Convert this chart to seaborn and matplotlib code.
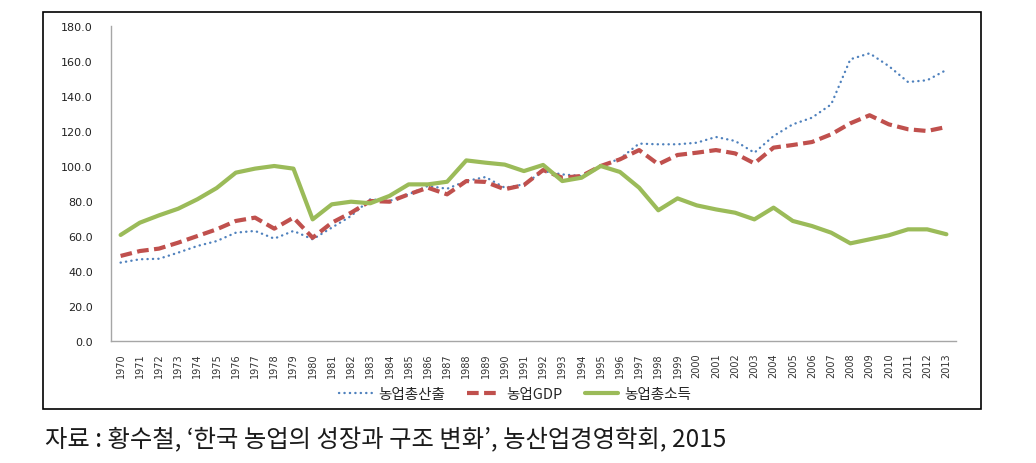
import numpy as np
import pandas as pd
import seaborn as sns
import matplotlib.pyplot as plt
from matplotlib.patches import Rectangle

years = list(range(1970, 2014))

# 농업총산출 (파란 점선)
total_output = [44.8, 46.7, 47.0, 50.5, 54.3, 57.1, 61.9, 62.9, 58.5, 62.9,
                58.1, 64.8, 71.4, 81.0, 80.0, 83.8, 88.6, 87.0, 91.4, 93.7,
                87.6, 89.5, 97.1, 95.2, 94.3, 100.0, 104.2, 112.8, 112.4, 112.4,
                113.3, 116.6, 114.3, 107.6, 117.1, 123.8, 127.6, 135.2, 161.0, 164.4,
                157.1, 148.0, 149.0, 154.9]
# 농업GDP (빨간 파선)
agri_gdp = [48.6, 51.4, 52.8, 56.2, 60.0, 63.8, 68.6, 70.5, 64.2, 70.5,
            59.0, 67.6, 73.3, 80.0, 79.6, 83.8, 87.6, 83.8, 91.4, 90.9,
            86.7, 89.1, 97.7, 93.3, 94.3, 100.0, 103.8, 109.1, 101.0, 106.3,
            107.6, 109.1, 107.2, 101.5, 110.5, 112.0, 113.7, 118.1, 124.4, 129.0,
            123.8, 121.0, 120.0, 122.3]
# 농업총소득 (초록 실선)
total_income = [60.6, 67.6, 71.8, 75.6, 81.0, 87.4, 96.2, 98.5, 100.0, 98.5,
                69.5, 78.1, 79.6, 78.7, 82.9, 89.5, 89.5, 91.0, 103.2, 101.9,
                100.8, 97.1, 100.6, 91.4, 93.3, 100.0, 96.6, 87.6, 74.7, 81.5,
                77.5, 75.2, 73.3, 69.5, 76.2, 68.6, 65.7, 61.9, 55.8, 58.1,
                60.4, 63.8, 63.8, 61.0]

yticks = np.arange(0, 181, 20)

sns.set_style("white")
plt.rcParams['font.family'] = ['DejaVu Sans', 'Noto Sans CJK KR']

df = pd.DataFrame({'x': np.arange(len(years)),
                   '농업총산출': total_output,
                   '농업GDP': agri_gdp,
                   '농업총소득': total_income})

fig = plt.figure(figsize=(10.36, 4.64), dpi=100)
ax = fig.add_axes([111/1036, 1-342/464, (956-111)/1036, (342-27)/464])

sns.lineplot(data=df, x='x', y='농업총산출', ax=ax, color='#4F81BD',
             linewidth=1.7, label='농업총산출')
ax.lines[-1].set_linestyle((0, (0.1, 2.2)))
ax.lines[-1].set_dash_capstyle('round')

sns.lineplot(data=df, x='x', y='농업GDP', ax=ax, color='#C0504D',
             linewidth=3.0, label='농업GDP')
ax.lines[-1].set_linestyle((0, (2.8, 1.3)))

sns.lineplot(data=df, x='x', y='농업총소득', ax=ax, color='#9BBB59',
             linewidth=3.0, label='농업총소득')

ax.set_xlim(-0.5, len(years) - 0.5)
ax.set_ylim(0, 180)
ax.set_xticks(df['x'])
ax.set_xticklabels([str(y) for y in years], rotation=90, fontsize=7, color='#333333')
ax.set_yticks(yticks)
ax.set_yticklabels([f'{v:.1f}' for v in yticks], fontsize=8, color='#222222')
ax.tick_params(axis='both', length=0)
ax.tick_params(axis='x', pad=8)
ax.tick_params(axis='y', pad=13)
ax.set_xlabel('')
ax.set_ylabel('')

for s in ['top', 'right']:
    ax.spines[s].set_visible(False)
for s in ['left', 'bottom']:
    ax.spines[s].set_color('#A6A6A6')
    ax.spines[s].set_linewidth(1.0)

handles, labels = ax.get_legend_handles_labels()
ax.get_legend().remove()
fig.legend(handles, labels, loc='center', bbox_to_anchor=(515/1036, 1-395/464),
           ncol=3, frameon=False, handlelength=2.3,
           handletextpad=0.4, columnspacing=1.5,
           prop={'family': ['Noto Sans CJK KR', 'DejaVu Sans'], 'size': 10.5})

# 바깥 테두리
fig.patches.append(Rectangle((43/1036, 1-410/464), (981-43)/1036, (410-13)/464,
                             transform=fig.transFigure, fill=False,
                             edgecolor='black', linewidth=1.2))

fig.text(45/1036, 1-440/464,
         '자료 : 황수철, ‘한국 농업의 성장과 구조 변화’, 농산업경영학회, 2015',
         fontsize=17.5, va='center', ha='left', color='#1a1a1a',
         family=['Noto Sans CJK KR', 'DejaVu Sans'])

fig.savefig('out.png', dpi=100)
